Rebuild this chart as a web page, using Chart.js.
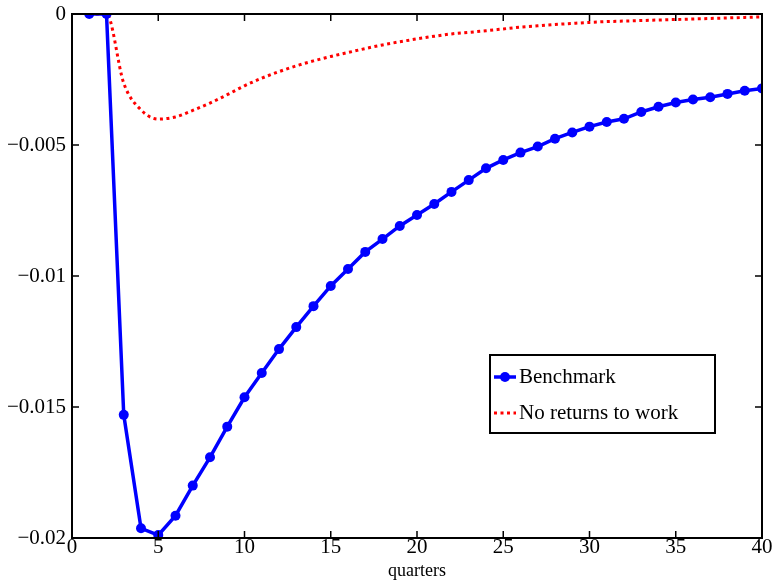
<!DOCTYPE html>
<html>
<head>
<meta charset="utf-8">
<style>
  html, body { margin: 0; padding: 0; background: #fff; }
  #wrap { width: 774px; height: 584px; }
</style>
<script src="https://cdn.jsdelivr.net/npm/chart.js"></script>
</head>
<body>
<div id="wrap"><canvas id="irfChart" width="774" height="584"></canvas></div>
<script>
(() => {
    const quarters = [1, 2, 3, 4, 5, 6, 7, 8, 9, 10, 11, 12, 13, 14, 15, 16, 17, 18, 19, 20,
        21, 22, 23, 24, 25, 26, 27, 28, 29, 30, 31, 32, 33, 34, 35, 36, 37, 38, 39, 40];

    const benchmark = [0, 0, -0.0153, -0.01963, -0.01989, -0.01915, -0.0180, -0.01692, -0.01575, -0.01463,
        -0.0137, -0.01279, -0.01195, -0.01115, -0.01038, -0.00973, -0.00908, -0.00859, -0.00809, -0.00767,
        -0.00725, -0.00679, -0.00634, -0.00589, -0.00557, -0.00529, -0.00506, -0.00476, -0.00452, -0.0043,
        -0.00412, -0.0040, -0.00374, -0.00354, -0.00338, -0.00326, -0.00318, -0.00305, -0.00293, -0.00284];

    const noReturns = [0, 0, -0.00264, -0.00366, -0.00401, -0.00393, -0.00368, -0.0034, -0.00308, -0.00274,
        -0.00245, -0.0022, -0.00198, -0.00179, -0.00162, -0.00147, -0.00132, -0.00118, -0.00106, -0.00095,
        -0.00085, -0.00076, -0.0007, -0.00064, -0.00057, -0.0005, -0.00045, -0.0004, -0.00036, -0.00032,
        -0.00029, -0.00027, -0.00025, -0.00023, -0.00021, -0.00019, -0.00017, -0.00015, -0.00013, -0.00011];

    const xTicks = [0, 5, 10, 15, 20, 25, 30, 35, 40];
    const yTicks = [0, -0.005, -0.01, -0.015, -0.02];
    const yTickLabels = ["0", "\u22120.005", "\u22120.01", "\u22120.015", "\u22120.02"];
    const seriesNames = ["Benchmark", "No returns to work"];

    const FONT = "'Liberation Serif', 'Times New Roman', serif";

    // frame, inward ticks and legend box, MATLAB style
    const framePlugin = {
        id: "frame",
        afterDatasetsDraw(chart) {
            const ctx = chart.ctx;
            const a = chart.chartArea;
            const xs = chart.scales.x, ys = chart.scales.y;
            ctx.save();
            ctx.strokeStyle = "#000";
            ctx.lineWidth = 2;
            ctx.strokeRect(a.left, a.top, a.right - a.left, a.bottom - a.top);
            ctx.lineWidth = 1.5;
            const tl = 7;
            ctx.beginPath();
            xTicks.forEach(v => {
                const px = xs.getPixelForValue(v);
                ctx.moveTo(px, a.bottom); ctx.lineTo(px, a.bottom - tl);
                ctx.moveTo(px, a.top); ctx.lineTo(px, a.top + tl);
            });
            yTicks.forEach(v => {
                const py = ys.getPixelForValue(v);
                ctx.moveTo(a.left, py); ctx.lineTo(a.left + tl, py);
                ctx.moveTo(a.right, py); ctx.lineTo(a.right - tl, py);
            });
            ctx.stroke();

            // legend
            const lx = 490, ly = 355, lw = 225, lh = 78;
            ctx.fillStyle = "#fff";
            ctx.fillRect(lx, ly, lw, lh);
            ctx.lineWidth = 2;
            ctx.strokeRect(lx, ly, lw, lh);
            ctx.font = "21px " + FONT;
            ctx.fillStyle = "#000";
            ctx.textBaseline = "middle";
            const ds = chart.data.datasets;
            const rows = [ly + 22, ly + 58];
            ds.forEach((d, i) => {
                const y = rows[i];
                ctx.strokeStyle = d.borderColor;
                ctx.lineWidth = d.borderWidth;
                ctx.setLineDash(d.borderDash || []);
                ctx.beginPath();
                ctx.moveTo(lx + 4, y); ctx.lineTo(lx + 26, y);
                ctx.stroke();
                ctx.setLineDash([]);
                if (d.pointRadius > 0) {
                    ctx.fillStyle = d.pointBackgroundColor;
                    ctx.beginPath();
                    ctx.arc(lx + 15, y, d.pointRadius, 0, Math.PI * 2);
                    ctx.fill();
                }
                ctx.fillStyle = "#000";
                ctx.fillText(d.label, lx + 29, y);
            });
            ctx.restore();
        }
    };

    const ctx = document.getElementById("irfChart").getContext("2d");
    new Chart(ctx, {
        type: "line",
        data: {
            labels: quarters,
            datasets: [
                {
                    label: seriesNames[0],
                    data: benchmark,
                    borderColor: "#0000ff",
                    backgroundColor: "#0000ff",
                    pointBackgroundColor: "#0000ff",
                    pointBorderWidth: 0,
                    borderWidth: 3.5,
                    pointRadius: 5,
                    tension: 0
                },
                {
                    label: seriesNames[1],
                    data: noReturns,
                    borderColor: "#ff0000",
                    backgroundColor: "#ff0000",
                    borderWidth: 3,
                    borderDash: [3, 3.5],
                    pointRadius: 0,
                    cubicInterpolationMode: "monotone"
                }
            ]
        },
        options: {
            responsive: false,
            animation: false,
            layout: { padding: { left: 0, right: 12, top: 14, bottom: 0 } },
            plugins: {
                legend: { display: false },
                tooltip: { enabled: false }
            },
            scales: {
                x: {
                    type: "linear",
                    min: 0,
                    max: 40,
                    grid: { display: false },
                    border: { display: false },
                    afterBuildTicks: s => { s.ticks = xTicks.map(v => ({ value: v })); },
                    ticks: {
                        color: "#000",
                        font: { family: FONT, size: 21 },
                        padding: -11,
                        maxRotation: 0,
                        callback: v => String(v)
                    },
                    title: {
                        display: true,
                        text: "quarters",
                        color: "#000",
                        font: { family: FONT, size: 18 },
                        padding: { top: -6, bottom: 2 }
                    },
                    afterFit: s => { s.height = 46; }
                },
                y: {
                    min: -0.02,
                    max: 0,
                    grid: { display: false },
                    border: { display: false },
                    afterBuildTicks: s => { s.ticks = yTicks.map(v => ({ value: v })); },
                    ticks: {
                        color: "#000",
                        font: { family: FONT, size: 21 },
                        padding: -2,
                        callback: v => yTickLabels[yTicks.indexOf(v)]
                    },
                    afterFit: s => { s.width = 72; }
                }
            }
        },
        plugins: [framePlugin]
    });
})();
</script>
</body>
</html>
